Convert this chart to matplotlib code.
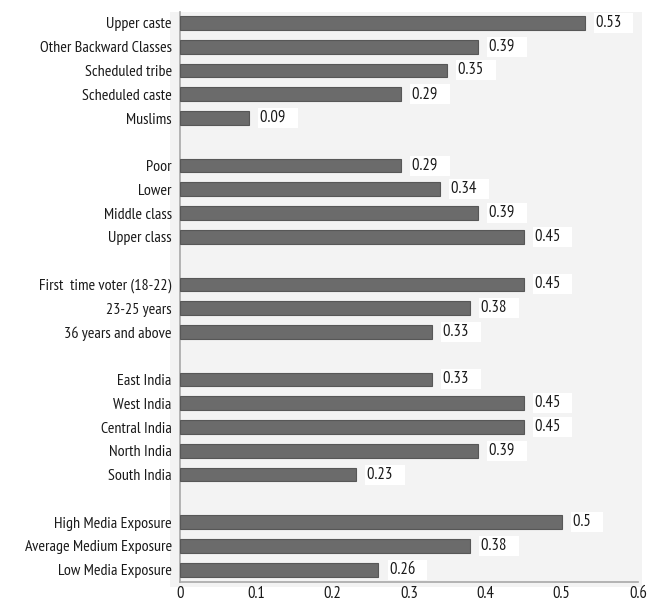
import numpy as np
import matplotlib.pyplot as plt
from matplotlib.patches import Rectangle
from matplotlib import font_manager

wanted = ['PT Sans Narrow', 'Fira Sans Condensed', 'Roboto Condensed', 'Archivo Narrow',
          'IBM Plex Sans Condensed', 'Encode Sans Condensed', 'Liberation Sans Narrow']
have = set(f.name for f in font_manager.fontManager.ttflist)
fams = [f for f in wanted if f in have] + ['DejaVu Sans']
plt.rcParams['font.family'] = fams

caste = ['Upper caste', 'Other Backward Classes', 'Scheduled tribe', 'Scheduled caste', 'Muslims']
caste_vals = ['0.53', '0.39', '0.35', '0.29', '0.09']
klass = ['Poor', 'Lower', 'Middle class', 'Upper class']
klass_vals = ['0.29', '0.34', '0.39', '0.45']
age = ['First  time voter (18-22)', '23-25 years', '36 years and above']
age_vals = ['0.45', '0.38', '0.33']
region = ['East India', 'West India', 'Central India', 'North India', 'South India']
region_vals = ['0.33', '0.45', '0.45', '0.39', '0.23']
media = ['High Media Exposure', 'Average Medium Exposure', 'Low Media Exposure']
media_vals = ['0.5', '0.38', '0.26']

groups = [(caste, caste_vals), (klass, klass_vals), (age, age_vals),
          (region, region_vals), (media, media_vals)]

labels, vals, pos = [], [], []
row = 0
for names, vs in groups:
    for n, v in zip(names, vs):
        labels.append(n)
        vals.append(v)
        pos.append(row)
        row += 1
    row += 1  # blank row between groups
nrows = row - 1

fig = plt.figure(figsize=(6.54, 6.04), dpi=100)
W, H = 654, 604
# light grey chart area
fig.patches.append(Rectangle((170 / W, 1 - 587 / H), 472 / W, 575 / H,
                             transform=fig.transFigure, facecolor='#f3f3f3',
                             edgecolor='none', zorder=-1))
ax = fig.add_axes([180 / W, 1 - 582 / H, 458 / W, 570 / H])
ax.set_facecolor('#f3f3f3')

x = np.array([float(v) for v in vals])
ax.barh(pos, x, height=0.58, color='#6b6b6b', edgecolor='#575757', linewidth=0.8, zorder=3)

for p, xv, s in zip(pos, x, vals):
    ax.annotate(s + '   ', (xv, p), xytext=(8, 0), textcoords='offset points',
                va='center', ha='left', fontsize=12, color='#1a1a1a',
                bbox=dict(boxstyle='square,pad=0.12', facecolor='white', edgecolor='none'),
                zorder=4)

ax.set_xlim(0, 0.6)
ax.set_ylim(nrows - 0.5 + 0.02, -0.46)
ax.set_xticks(np.arange(0, 0.61, 0.1))
ax.set_xticklabels(['0', '0.1', '0.2', '0.3', '0.4', '0.5', '0.6'])
ax.set_yticks(pos)
ax.set_yticklabels(labels)
ax.tick_params(axis='both', length=0, colors='#1a1a1a')
ax.tick_params(axis='x', pad=3, labelsize=12)
ax.tick_params(axis='y', pad=6, labelsize=11.5)

for s in ['top', 'right']:
    ax.spines[s].set_visible(False)
for s in ['left', 'bottom']:
    ax.spines[s].set_color('#a8a8a8')
    ax.spines[s].set_linewidth(1.2)

fig.savefig('out.png', dpi=100)
